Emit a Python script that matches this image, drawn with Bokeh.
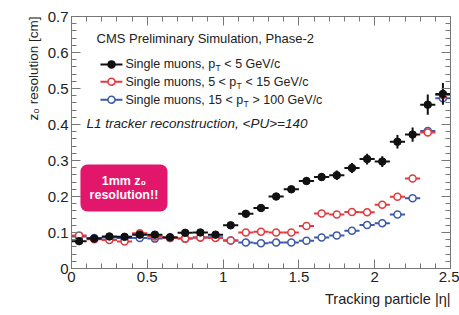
import numpy as np
from bokeh.plotting import figure
from bokeh.models import Range1d, FixedTicker, LinearAxis, Label, BoxAnnotation, ColumnDataSource, Title
from bokeh.core.properties import value
from bokeh.embed import file_html
from bokeh.resources import INLINE

# ---------------- data ----------------
eta = [0.05, 0.15, 0.25, 0.35, 0.45, 0.55, 0.65, 0.75, 0.85, 0.95,
       1.05, 1.15, 1.25, 1.35, 1.45, 1.55, 1.65, 1.75, 1.85, 1.95,
       2.05, 2.15, 2.25, 2.35, 2.45]
bin_half_width = 0.05

res_pt_lt5 = [0.076, 0.083, 0.089, 0.088, 0.094, 0.094, 0.087, 0.099, 0.100, 0.094,
              0.120, 0.152, 0.168, 0.200, 0.220, 0.243, 0.254, 0.259, 0.279, 0.304,
              0.297, 0.352, 0.372, 0.455, 0.485]
err_pt_lt5 = [0.006, 0.005, 0.005, 0.005, 0.006, 0.006, 0.006, 0.006, 0.006, 0.006,
              0.007, 0.008, 0.008, 0.009, 0.009, 0.010, 0.011, 0.013, 0.014, 0.015,
              0.015, 0.019, 0.020, 0.028, 0.030]

res_pt_5_15 = [0.092, 0.081, 0.079, 0.075, 0.098, 0.089, 0.085, 0.083, 0.086, 0.085,
               0.078, 0.100, 0.102, 0.100, 0.100, 0.118, 0.153, 0.150, 0.157, 0.156,
               0.177, 0.199, 0.250, 0.378, 0.482]

res_pt_gt100 = [0.089, 0.085, 0.086, 0.085, 0.085, 0.083, 0.085, 0.083, 0.086, 0.087,
                0.078, 0.072, 0.070, 0.072, 0.072, 0.077, 0.086, 0.092, 0.105, 0.121,
                0.126, 0.150, 0.195, 0.382, 0.473]

x_ticks = [0, 0.5, 1, 1.5, 2, 2.5]
x_tick_labels = ["0", "0.5", "1", "1.5", "2", "2.5"]
y_ticks = [0, 0.1, 0.2, 0.3, 0.4, 0.5, 0.6, 0.7]
y_tick_labels = ["0", "0.1", "0.2", "0.3", "0.4", "0.5", "0.6", "0.7"]

legend_pre = ["Single muons, p", "Single muons, 5 < p", "Single muons, 15 < p"]
legend_post = ["< 5 GeV/c", "< 15 GeV/c", "> 100 GeV/c"]
legend_pre_em = [7.170, 8.866, 9.422]   # Arial/Liberation Sans advance widths in em

BLACK = "#111111"
RED = "#e23a3f"
BLUE = "#3d5aa8"
PINK = "#e2166a"
FONT = "Liberation Sans"

# ---------------- figure ----------------
p = figure(width=459, height=315, x_range=Range1d(0, 2.5), y_range=Range1d(0, 0.7),
           output_backend="svg", toolbar_location=None,
           min_border_left=71, min_border_right=9, min_border_top=16, min_border_bottom=47)
p.xgrid.visible = False
p.ygrid.visible = False
p.background_fill_color = "white"
p.border_fill_color = "white"
p.outline_line_color = "#777777"

x_minor = [round(v, 2) for v in np.arange(0, 2.501, 0.1)]
y_minor = [round(v, 3) for v in np.arange(0, 0.7001, 0.02)]

def style_axis(ax, ticks, minor, labels=None):
    ax.ticker = FixedTicker(ticks=ticks, minor_ticks=minor)
    ax.major_tick_in = 9
    ax.major_tick_out = 0
    ax.minor_tick_in = 5
    ax.minor_tick_out = 0
    ax.major_tick_line_color = "#777777"
    ax.minor_tick_line_color = "#777777"
    ax.axis_line_color = "#777777"
    if labels is None:
        ax.major_label_text_font_size = "1px"
        ax.major_label_text_color = None
        ax.major_label_standoff = 0
    else:
        ax.major_label_overrides = dict(zip(ticks, labels))
        ax.major_label_text_font = FONT
        ax.major_label_text_font_size = "15px"
        ax.major_label_text_color = "#222222"
        ax.major_label_standoff = 3

xax = p.xaxis[0]
yax = p.yaxis[0]
style_axis(xax, x_ticks, x_minor, x_tick_labels)
style_axis(yax, y_ticks, y_minor, y_tick_labels)
top_ax = LinearAxis()
right_ax = LinearAxis()
style_axis(top_ax, x_ticks, x_minor)
style_axis(right_ax, y_ticks, y_minor)
p.add_layout(top_ax, "above")
p.add_layout(right_ax, "right")

# axis titles (right/top aligned, ROOT style)
p.add_layout(Title(text="Tracking particle |η|", align="right", text_font=FONT,
                   text_font_size="14.5px", text_font_style="normal", text_color="#222222",
                   standoff=8), "below")
p.add_layout(Title(text="z₀ resolution [cm]", align="right", text_font=FONT,
                   text_font_size="13.5px", text_font_style="normal", text_color="#222222",
                   standoff=8), "left")

# ---------------- data series ----------------
def series(yvals, color, filled, yerr=None):
    xs = np.array(eta)
    ys = np.array(yvals)
    src = ColumnDataSource(dict(x=xs, y=ys, x0=xs - bin_half_width, x1=xs + bin_half_width))
    p.segment(x0="x0", x1="x1", y0="y", y1="y", source=src, line_color=color, line_width=2)
    if yerr is not None:
        e = np.array(yerr)
        p.segment(x0=xs, x1=xs, y0=ys - e, y1=ys + e, line_color=color, line_width=2)
    if filled:
        p.scatter("x", "y", source=src, marker="circle", size=7.5, fill_color=color, line_color=color)
    else:
        p.scatter("x", "y", source=src, marker="circle", size=7, fill_color="white",
                  line_color=color, line_width=1.5)

series(res_pt_gt100, BLUE, False)
series(res_pt_5_15, RED, False)
series(res_pt_lt5, BLACK, True, err_pt_lt5)

# ---------------- in-plot texts / legend ----------------
p.text(x=[0.165], y=[0.639], text=["CMS Preliminary Simulation, Phase-2"],
       text_font=value(FONT), text_font_size="13px", text_color="#222222",
       text_baseline="middle", text_align="left")

leg_y = [0.567, 0.519, 0.469]
leg_colors = [BLACK, RED, BLUE]
leg_filled = [True, False, False]
fs = 12.5
for yy, col, fil, pre, post, em in zip(leg_y, leg_colors, leg_filled, legend_pre, legend_post, legend_pre_em):
    p.segment(x0=[0.191], x1=[0.336], y0=[yy], y1=[yy], line_color=col, line_width=2)
    p.scatter(x=[0.264], y=[yy], marker="circle", size=7,
              fill_color=(col if fil else "white"), line_color=col, line_width=1.5)
    w = em * fs
    p.text(x=[0.356], y=[yy], text=[pre], text_font=value(FONT), text_font_size=f"{fs}px",
           text_color="#222222", text_baseline="middle", text_align="left")
    p.text(x=[0.356], y=[yy], text=["T"], x_offset=w + 0.3, y_offset=4,
           text_font=value(FONT), text_font_size="8.5px",
           text_color="#222222", text_baseline="middle", text_align="left")
    p.text(x=[0.356], y=[yy], text=[post], x_offset=w + 5.8 + 0.278 * fs, text_font=value(FONT),
           text_font_size=f"{fs}px", text_color="#222222", text_baseline="middle", text_align="left")

p.text(x=[0.099], y=[0.403], text=["L1 tracker reconstruction, <PU>=140"],
       text_font=value(FONT), text_font_size="13.5px", text_font_style="italic",
       text_color="#222222", text_baseline="middle", text_align="left")

box = BoxAnnotation(left=0.059, right=0.633, bottom=0.158, top=0.289,
                    fill_color=PINK, fill_alpha=1.0, line_color=None, border_radius=7)
p.add_layout(box)
for txt, yy in [("1mm z₀", 0.244), ("resolution!!", 0.203)]:
    p.add_layout(Label(x=0.346, y=yy, text=txt, text_font=FONT, text_font_size="12.5px",
                       text_font_style="bold", text_color="white",
                       text_align="center", text_baseline="middle"))

open("out.html", "w").write(file_html(p, INLINE))
